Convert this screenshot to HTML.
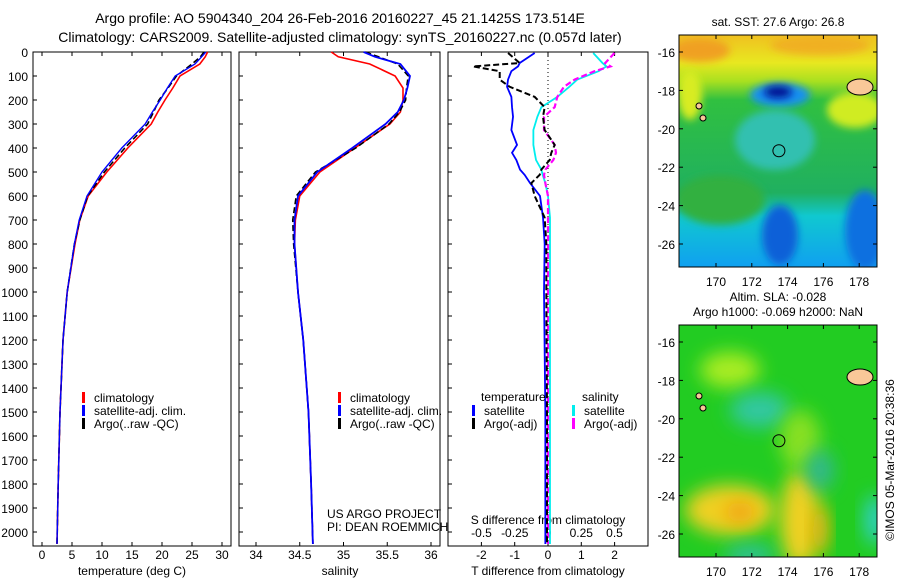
<!DOCTYPE html>
<html><head><meta charset="utf-8"><style>
body{margin:0;background:#fff}
svg{display:block;font-family:"Liberation Sans",sans-serif}
</style></head><body>
<svg id="c" width="900" height="580" xmlns="http://www.w3.org/2000/svg">
<defs>
<filter id="bl" x="-50%" y="-50%" width="200%" height="200%"><feGaussianBlur stdDeviation="9"/></filter>
<filter id="bl2" x="-50%" y="-50%" width="200%" height="200%"><feGaussianBlur stdDeviation="4"/></filter>
<clipPath id="cm1"><rect x="679" y="35" width="198" height="232"/></clipPath>
<clipPath id="cm2"><rect x="679" y="325" width="198" height="232"/></clipPath>
<linearGradient id="sstg" x1="0" y1="0" x2="0" y2="1">
<stop offset="0" stop-color="#f0c020"/><stop offset="0.12" stop-color="#e8e820"/><stop offset="0.2" stop-color="#a8e020"/><stop offset="0.28" stop-color="#30c040"/>
<stop offset="0.68" stop-color="#20b060"/><stop offset="0.78" stop-color="#10c8d0"/><stop offset="1" stop-color="#10a0f0"/>
</linearGradient>
</defs>
<text x="340" y="23" font-size="14" text-anchor="middle">Argo profile: AO 5904340_204 26-Feb-2016 20160227_45 21.1425S 173.514E</text>
<text x="340" y="42" font-size="14" text-anchor="middle">Climatology: CARS2009. Satellite-adjusted climatology: synTS_20160227.nc (0.057d later)</text>
<g id="g"></g>
</svg>
<script>
// depth grid (m)
const depths=[0,20,50,100,150,200,250,300,400,500,600,700,800,1000,1200,1500,1800,2050];
// panel 1 temperature (deg C)
const tempClim=[27.6,27.2,26.3,23.0,21.8,20.5,19.3,18.2,14.3,10.8,7.7,6.3,5.5,4.2,3.5,3.0,2.7,2.5];
const tempSat=[27.3,26.6,25.5,22.2,20.9,19.7,18.4,17.2,13.3,10.0,7.5,6.2,5.4,4.2,3.5,3.0,2.7,2.5];
const tempArgo=[27.0,26.4,25.0,22.4,21.0,19.5,18.6,17.6,13.8,10.4,7.6,6.3,5.4,4.2,3.5,3.0,2.7,2.5];
// panel 2 salinity
const salClim=[34.86,34.94,35.30,35.59,35.68,35.68,35.65,35.53,35.13,34.73,34.50,34.45,34.44,34.48,34.54,34.60,34.63,34.65];
const salSat=[35.23,35.36,35.65,35.76,35.73,35.69,35.62,35.48,35.10,34.70,34.48,34.44,34.44,34.48,34.54,34.60,34.63,34.65];
const salArgo=[35.25,35.40,35.62,35.74,35.72,35.71,35.64,35.52,35.14,34.68,34.46,34.42,34.43,34.48,34.54,34.60,34.63,34.65];
// panel 3 differences
const dDepths=[4,46,60,80,115,145,187,230,270,325,387,420,450,490,512,546,600,690,800,1000,1500,2050];
const tDiffSat=[-0.4,-0.85,-0.9,-1.1,-1.2,-1.23,-1.1,-1.08,-1.05,-1.1,-0.93,-1.08,-0.95,-0.84,-0.7,-0.54,-0.24,-0.15,-0.1,-0.12,-0.08,-0.08];
const tDiffArgo=[-1.2,-0.85,-2.25,-1.45,-1.45,-1.15,-0.4,-0.1,-0.15,-0.1,0.2,0.1,0.05,-0.2,-0.25,-0.5,-0.4,-0.1,-0.05,-0.05,-0.03,-0.03];
const sDiffSat=[0.34,0.41,0.44,0.38,0.22,0.16,0.07,-0.05,-0.08,-0.11,-0.11,-0.1,-0.09,-0.05,-0.04,-0.02,0.0,0.015,0.015,0.015,0.015,0.015];
const sDiffArgo=[0.5,0.43,0.47,0.35,0.2,0.12,0.07,0.05,-0.03,-0.03,0.05,0.06,0.04,-0.02,-0.03,-0.02,0.0,0.0,0.0,0.0,0.0,0.0];
const depthTicks=[0,100,200,300,400,500,600,700,800,900,1000,1100,1200,1300,1400,1500,1600,1700,1800,1900,2000];
const tTicks=[0,5,10,15,20,25,30];
const sTicks=[34,34.5,35,35.5,36];
const sTickLabels=["34","34.5","35","35.5","36"];
const tdTicks=[-2,-1,0,1,2];
const sdTicks=[-0.5,-0.25,0,0.25,0.5];
const sdTickLabels=["-0.5","-0.25","0","0.25","0.5"];
const lonTicks=[170,172,174,176,178];
const latTicks=[-16,-18,-20,-22,-24,-26];

const NS="http://www.w3.org/2000/svg";
const G=document.getElementById('g');
function el(tag,attrs,parent,txt){const e=document.createElementNS(NS,tag);for(const k in attrs)e.setAttribute(k,attrs[k]);if(txt!==undefined)e.textContent=txt;(parent||G).appendChild(e);return e;}
const yD=d=>52+0.24*d;
const xT=t=>42+6*t;
const xS=s=>256+87.5*(s-34);
const xTD=t=>548+33.3*t;
const xSD=s=>548+133*s;
const TOP=52,BOT=546;
function panel(x0,x1,name){const r=el('rect',{x:x0,y:TOP,width:x1-x0,height:BOT-TOP,fill:'none',stroke:'#000','stroke-width':1});

}
panel(33,231,'temperature-panel');panel(239,440,'salinity-panel');panel(448,648,'difference-panel');
depthTicks.forEach(d=>{const t=el('text',{x:28,y:yD(d)+5,'font-size':12,'text-anchor':'end'},G,String(d));


[33,239,448].forEach(x=>el('line',{x1:x,x2:x+4,y1:yD(d),y2:yD(d),stroke:'#000'}));});
function xticks(vals,labels,fx,y,name){vals.forEach((v,i)=>{const x=fx(v);
el('line',{x1:x,x2:x,y1:BOT,y2:BOT-4,stroke:'#000'});el('line',{x1:x,x2:x,y1:TOP,y2:TOP+4,stroke:'#000'});
const t=el('text',{x:x,y:y,'font-size':12,'text-anchor':'middle'},G,labels[i]);

});}
xticks(tTicks,tTicks.map(String),xT,559,'temperature-tick-label');
xticks(sTicks,sTickLabels,xS,559,'salinity-tick-label');
xticks(tdTicks,tdTicks.map(String),xTD,559,'t-diff-tick-label');
sdTicks.forEach((v,i)=>{const t=el('text',{x:xSD(v),y:537,'font-size':12,'text-anchor':'middle'},G,sdTickLabels[i]);

});
function label(x,y,s,name,anchor){const t=el('text',{x:x,y:y,'font-size':12,'text-anchor':anchor||'middle'},G,s);

}
label(132,575,'temperature (deg C)','temperature-axis-title');
label(340,575,'salinity','salinity-axis-title');
label(548,575,'T difference from climatology','t-diff-axis-title');
label(548,524,'S difference from climatology','s-diff-axis-title');
label(327,518,'US ARGO PROJECT','project-note','start');
label(327,531,'PI: DEAN ROEMMICH','pi-note','start');
el('line',{x1:548,x2:548,y1:TOP,y2:BOT,stroke:'#000','stroke-dasharray':'1,3'});
function line(xs,ds,fx,color,dash,w,name){const p=el('polyline',{points:xs.map((v,i)=>fx(v)+','+yD(ds[i])).join(' '),fill:'none',stroke:color,'stroke-width':w||1.6});
if(dash)p.setAttribute('stroke-dasharray',dash);

}
line(tempClim,depths,xT,'#f00',null,1.6,'temp-climatology-line');
line(tempArgo,depths,xT,'#000','6,3',1.6,'temp-argo-line');
line(tempSat,depths,xT,'#00f',null,1.4,'temp-satellite-line');
line(salClim,depths,xS,'#f00',null,1.6,'sal-climatology-line');
line(salArgo,depths,xS,'#000','6,3',1.6,'sal-argo-line');
line(salSat,depths,xS,'#00f',null,1.8,'sal-satellite-line');
line(tDiffSat,dDepths,xTD,'#00f',null,1.8,'tdiff-satellite-line');
line(sDiffSat,dDepths,xSD,'#0ee',null,1.8,'sdiff-satellite-line');
line(sDiffArgo,dDepths,xSD,'#f0f','6,3',2.2,'sdiff-argo-line');
line(tDiffArgo,dDepths,xTD,'#000','6,3',2,'tdiff-argo-line');
function leg(x,y,color,txt,name){el('rect',{x:x,y:y-10,width:3,height:11,fill:color});const t=el('text',{x:x+12,y:y,'font-size':12},G,txt);

}
leg(82,402,'#f00','climatology','legend-climatology');leg(82,415,'#00f','satellite-adj. clim.','legend-satellite');leg(82,428,'#000','Argo(..raw -QC)','legend-argo');
leg(338,402,'#f00','climatology','legend2-climatology');leg(338,415,'#00f','satellite-adj. clim.','legend2-satellite');leg(338,428,'#000','Argo(..raw -QC)','legend2-argo');
label(481,401,'temperature','legend3-temperature','start');label(582,401,'salinity','legend3-salinity','start');
leg(472,415,'#00f','satellite','legend3-tsat');leg(472,428,'#000','Argo(-adj)','legend3-targo');
leg(572,415,'#0ee','satellite','legend3-ssat');leg(572,428,'#f0f','Argo(-adj)','legend3-sargo');

// maps
const lonX=l=>716+(l-170)*17.9;
const latY=(l,off)=>52+off+(-16-l)*19.2;
function map(off,clip,name,isSST){
const g=el('g',{'clip-path':'url(#'+clip+')'});


if(isSST){
el('rect',{x:679,y:35+off,width:198,height:232,fill:'url(#sstg)'},g);
[[700,50,30,12,'#f0a020'],[820,45,50,10,'#f0b020'],[855,110,28,18,'#d0ec20'],[690,95,12,25,'#d8ec20'],[780,95,30,12,'#1890f0'],[775,140,40,30,'#30c0b0'],[780,235,18,30,'#1060d8'],[865,230,20,40,'#1070e0'],[720,200,45,25,'#30b040']].forEach(b=>el('ellipse',{cx:b[0],cy:b[1]+off,rx:b[2],ry:b[3],fill:b[4],filter:'url(#bl2)'},g));
el('ellipse',{cx:778,cy:92,rx:14,ry:6,fill:'#000a90',filter:'url(#bl2)'},g);
}else{
el('rect',{x:679,y:35+off,width:198,height:232,fill:'#22cc22'},g);
[[730,80,30,18,'#a8ec20'],[760,120,30,18,'#30c8a0'],[730,220,45,25,'#f0d020'],[800,230,20,50,'#f0d020'],[800,150,20,30,'#88e020'],[820,180,14,20,'#30b890'],[875,230,10,25,'#30d0d0'],[750,265,25,10,'#30c0a0']].forEach(b=>el('ellipse',{cx:b[0],cy:b[1]+off,rx:b[2],ry:b[3],fill:b[4],filter:'url(#bl)'},g));
el('ellipse',{cx:740,cy:222+off,rx:15,ry:10,fill:'#f0a010',filter:'url(#bl)'},g);
el('ellipse',{cx:820,cy:240+off,rx:8,ry:25,fill:'#f0b010',filter:'url(#bl)'},g);
}
el('ellipse',{cx:860,cy:87+off,rx:13,ry:8,fill:'#f9c898',stroke:'#000'},g);
el('ellipse',{cx:699,cy:106+off,rx:3,ry:3,fill:'#f9c898',stroke:'#000'},g);
el('ellipse',{cx:703,cy:118+off,rx:3,ry:3,fill:'#f9c898',stroke:'#000'},g);
el('circle',{cx:lonX(173.514),cy:latY(-21.1425,off),r:6,fill:'none',stroke:'#000'},g);
const r=el('rect',{x:679,y:35+off,width:198,height:232,fill:'none',stroke:'#000'});


lonTicks.forEach(l=>{el('line',{x1:lonX(l),x2:lonX(l),y1:35+off,y2:39+off,stroke:'#000'});el('line',{x1:lonX(l),x2:lonX(l),y1:267+off,y2:263+off,stroke:'#000'});
const t=el('text',{x:lonX(l),y:286+off,'font-size':12,'text-anchor':'middle'},G,String(l));

});
latTicks.forEach(l=>{const y=latY(l,off);el('line',{x1:679,x2:683,y1:y,y2:y,stroke:'#000'});el('line',{x1:877,x2:873,y1:y,y2:y,stroke:'#000'});
const t=el('text',{x:675,y:y+5,'font-size':12,'text-anchor':'end'},G,String(l));

});
}
map(0,'cm1','sst-map',true);
map(290,'cm2','sla-map',false);
label(778,26,'sat. SST: 27.6 Argo: 26.8','sst-map-title');
label(778,301,'Altim. SLA: -0.028','sla-map-title');
label(778,316,'Argo h1000: -0.069 h2000: NaN','argo-height-label');
const cr=el('text',{x:0,y:0,'font-size':12,'text-anchor':'middle',transform:'translate(894,460) rotate(-90)'},G,'©IMOS 05-Mar-2016 20:38:36');


</script>
</body></html>
